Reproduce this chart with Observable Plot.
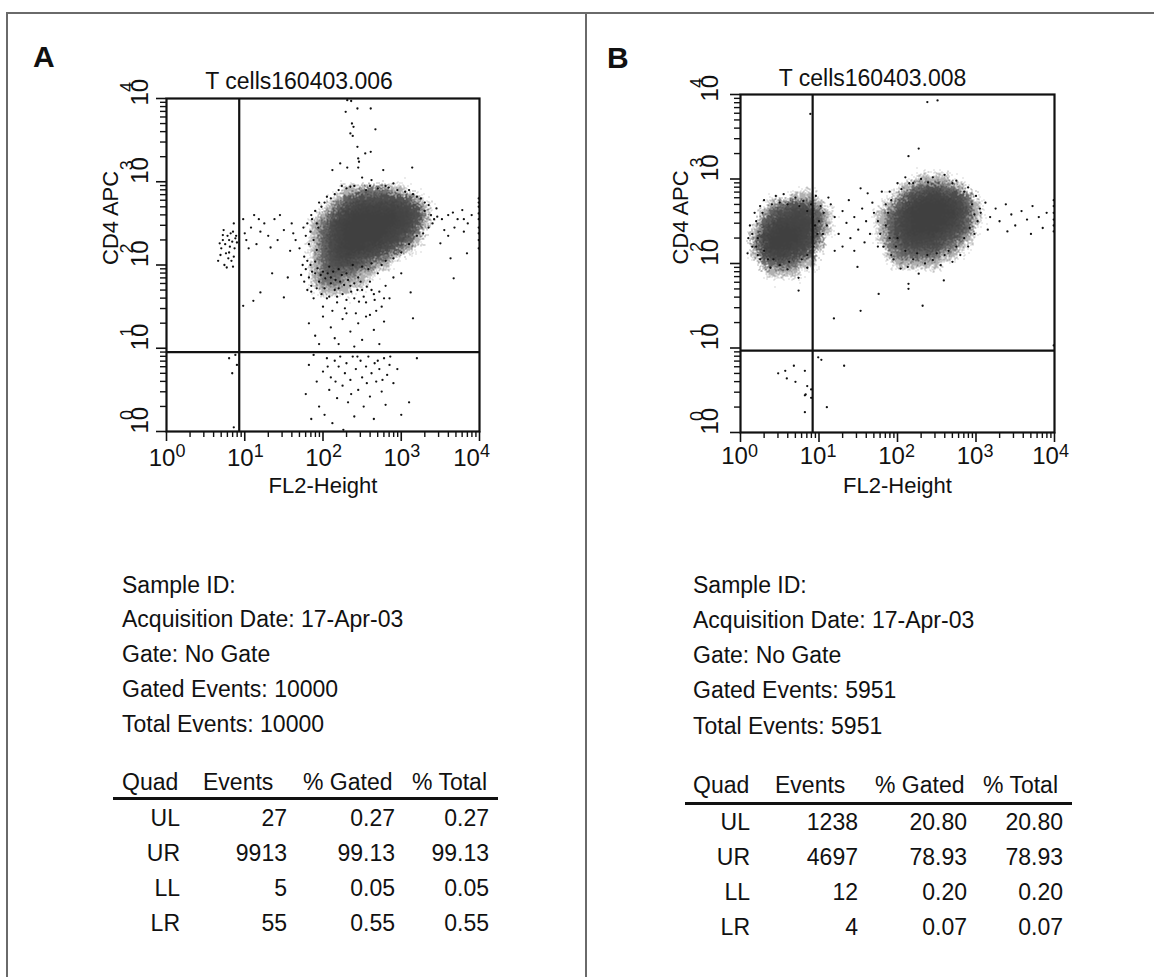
<!DOCTYPE html>
<html><head><meta charset="utf-8">
<script src="https://cdn.jsdelivr.net/npm/d3@7"></script>
<script src="https://cdn.jsdelivr.net/npm/@observablehq/plot@0.6"></script>
<style>
body{margin:0;background:#fff;}
#fig{position:relative;width:1154px;height:977px;overflow:hidden;font-family:"Liberation Sans",Arial,Helvetica,sans-serif;color:#111;background:#fff;}
.t{position:absolute;font-size:23px;line-height:23px;white-space:nowrap;}
.r{transform:translateX(-100%);}
.lab{position:absolute;font-size:30px;line-height:30px;font-weight:bold;}
.bd{position:absolute;background:#6a6a6a;z-index:5;}
.rule{position:absolute;height:3px;background:#111;}
.pl{position:absolute;top:0;}
</style></head><body><div id="fig"></div>
<script>
// ---------------- data ----------------
const titleA = "T cells160403.006";
const titleB = "T cells160403.008";
const xLabel = "FL2-Height";
const yLabel = "CD4 APC";
const decadeTicks = [1, 10, 100, 1000, 10000];
const decadeExp = ["0", "1", "2", "3", "4"];

// quadrant gates (channel values)
const gateA = {x: 8.5, y: 9.0};
const gateB = {x: 8.3, y: 9.3};

// density grid, panel A (log10 decades)
const gridA_lx = [1.7,1.8,1.9,2.0,2.1,2.2,2.3,2.4,2.5,2.6,2.7,2.8,2.9,3.0,3.1,3.2,3.3,3.4,3.5];
const gridA_ly = [3.0,2.9,2.8,2.7,2.6,2.5,2.4,2.3,2.2,2.1,2.0,1.9,1.8,1.7,1.6];
const gridA = [
 [0,0,0,0,0,0,0,0,0,0,0,0,0,0,0,0,0,0,0],
 [0,0,0,0,0,0,1,1,2,2,2,2,1,1,0,0,0,0,0],
 [0,0,0,0,0,1,3,4,5,5,5,5,5,4,3,1,0,0,0],
 [0,0,0,0,1,3,6,7,8,8,8,8,8,7,6,4,1,0,0],
 [0,0,0,1,3,6,8,9,9,9,9,9,9,8,7,5,2,0,0],
 [0,0,1,2,5,8,9,9,9,9,9,9,9,8,7,4,1,0,0],
 [0,0,1,3,6,8,9,9,9,9,9,9,8,7,5,2,0,0,0],
 [0,0,1,3,6,8,9,9,9,9,9,8,7,5,3,1,0,0,0],
 [0,0,1,3,6,8,9,9,9,8,7,6,4,2,1,0,0,0,0],
 [0,0,1,3,5,7,8,7,6,5,4,2,1,0,0,0,0,0,0],
 [0,0,1,3,4,5,5,4,3,2,1,1,0,0,0,0,0,0,0],
 [0,0,1,2,3,3,2,2,1,1,0,0,0,0,0,0,0,0,0],
 [0,0,1,2,2,2,1,1,1,0,0,0,0,0,0,0,0,0,0],
 [0,0,0,1,1,1,1,0,0,0,0,0,0,0,0,0,0,0,0],
 [0,0,0,0,0,0,0,0,0,0,0,0,0,0,0,0,0,0,0]
];

// density grids, panel B: UL population and UR population
const gridB1_lx = [0.0,0.1,0.2,0.3,0.4,0.5,0.6,0.7,0.8,0.9,1.0,1.1,1.2,1.3,1.4];
const gridB1_ly = [2.9,2.8,2.7,2.6,2.5,2.4,2.3,2.2,2.1,2.0,1.9,1.8];
const gridB1 = [
 [0,0,0,0,0,0,0,0,0,0,0,0,0,0,0],
 [0,0,0,0,0,0,0,1,1,1,0,0,0,0,0],
 [0,0,0,0,1,2,3,4,4,3,1,0,0,0,0],
 [0,0,0,1,3,5,6,7,7,6,3,1,0,0,0],
 [0,0,0,3,6,8,8,8,8,7,3,1,0,0,0],
 [0,0,1,5,8,9,9,9,8,7,3,1,0,0,0],
 [0,0,2,7,9,9,9,9,8,6,2,0,0,0,0],
 [0,0,2,7,9,9,9,8,7,4,1,0,0,0,0],
 [0,0,1,5,7,8,7,6,4,2,0,0,0,0,0],
 [0,0,0,2,3,4,3,2,1,1,0,0,0,0,0],
 [0,0,0,0,1,1,1,1,0,0,0,0,0,0,0],
 [0,0,0,0,0,0,0,0,0,0,0,0,0,0,0]
];
const gridB2_lx = [1.6,1.7,1.8,1.9,2.0,2.1,2.2,2.3,2.4,2.5,2.6,2.7,2.8,2.9,3.0,3.1,3.2,3.3];
const gridB2_ly = [3.1,3.0,2.9,2.8,2.7,2.6,2.5,2.4,2.3,2.2,2.1,2.0,1.9,1.8];
const gridB2 = [
 [0,0,0,0,0,0,0,0,0,0,0,0,0,0,0,0,0,0],
 [0,0,0,0,0,0,0,1,1,1,1,0,0,0,0,0,0,0],
 [0,0,0,0,0,1,2,3,4,4,3,2,1,0,0,0,0,0],
 [0,0,0,0,1,3,5,7,8,8,7,6,4,2,0,0,0,0],
 [0,0,0,1,3,6,8,9,9,9,9,8,6,3,1,0,0,0],
 [0,0,1,2,5,8,9,9,9,9,9,9,7,4,1,0,0,0],
 [0,0,1,3,6,8,9,9,9,9,9,8,6,3,1,0,0,0],
 [0,0,1,3,6,8,9,9,9,9,8,6,4,2,0,0,0,0],
 [0,0,1,2,5,7,8,8,8,7,6,4,2,1,0,0,0,0],
 [0,0,0,2,3,5,6,6,6,5,3,2,1,0,0,0,0,0],
 [0,0,0,1,2,3,3,3,3,2,1,1,0,0,0,0,0,0],
 [0,0,0,0,1,1,1,1,1,1,0,0,0,0,0,0,0,0],
 [0,0,0,0,0,0,0,0,0,0,0,0,0,0,0,0,0,0],
 [0,0,0,0,0,0,0,0,0,0,0,0,0,0,0,0,0,0]
];

// individual events, [log10 FL2, log10 CD4]
const eventsDotsA = [
 [2.31,3.98],[2.36,3.97],[2.29,3.84],[2.44,3.88],[2.61,3.88],[2.37,3.70],[2.39,3.66],[2.67,3.63],[2.35,3.58],[2.38,3.55],
 [2.44,3.42],[2.54,3.34],[2.61,3.36],[2.45,3.28],[2.46,3.24],[2.45,3.17],[2.22,3.22],[2.31,3.17],[2.12,3.14],[2.77,3.14],
 [3.14,3.17],[2.24,2.95],[2.35,2.94],[2.84,2.93],[2.5,3.05],[2.62,3.02],[2.9,2.98],
 [2.2,2.9],[2.3,2.92],[2.6,2.95],[2.7,2.92],[2.95,2.9],[3.05,2.88],[3.15,2.85],[3.25,2.8],[3.35,2.72],[3.3,2.65],[3.38,2.6],
 [1.95,2.75],[2.05,2.82],[1.85,2.6],[1.8,2.5],[1.78,2.35],
 [3.99,2.8],[3.99,2.75],[3.99,2.7],[3.99,2.62],[3.99,2.55],[3.99,2.45],[3.99,2.38],[3.99,2.3],[3.99,2.2],
 [3.46,2.58],[3.52,2.55],[3.6,2.6],[3.66,2.63],[3.72,2.55],[3.78,2.66],[3.8,2.55],[3.68,2.45],[3.55,2.42],[3.6,2.35],
 [3.8,2.4],[3.85,2.5],[3.5,2.26],[3.67,1.84],[3.63,2.08],[3.84,2.14],[3.12,1.67],[3.15,1.36],[3.45,2.68],[3.9,2.6],
 [0.66,2.05],[0.7,2.2],[0.72,2.3],[0.75,2.25],[0.78,2.35],[0.8,2.15],[0.82,2.38],[0.84,2.28],[0.86,2.1],[0.88,2.32],
 [0.69,2.12],[0.74,2.0],[0.77,1.97],[0.81,2.22],[0.85,2.4],[0.83,2.05],[0.72,2.36],[0.79,2.08],[0.87,2.2],[0.9,2.27],
 [0.68,2.26],[0.76,2.14],[0.85,1.98],[0.89,2.35],[0.73,2.42],[0.86,2.5],[0.8,2.3],
 [0.98,2.55],[1.02,2.3],[1.08,2.45],[1.12,2.6],[1.15,2.25],[1.2,2.4],[1.25,2.5],[1.3,2.35],[1.33,2.21],[1.38,2.55],
 [1.42,2.3],[1.05,2.2],[1.0,2.38],[1.18,2.55],[1.6,2.5],[1.65,2.3],[1.7,2.2],[1.75,2.45],[1.62,2.38],[1.58,2.17],
 [1.5,2.42],[1.92,2.5],[1.45,2.6],[0.98,1.51],[1.11,1.57],[1.2,1.67],[1.5,1.61],[1.35,1.9],[1.55,1.85],
 [1.78,1.95],[1.82,1.85],[1.85,1.75],[1.9,1.9],[1.95,1.8],[1.98,1.65],[2.02,1.72],[2.05,1.6],[2.1,1.85],[2.15,1.7],
 [2.18,1.55],[2.22,1.8],[2.25,1.65],[2.3,1.9],[2.35,1.75],[2.4,1.6],[2.45,1.85],[2.5,1.7],[2.55,1.55],[2.6,1.8],
 [2.65,1.65],[2.7,1.9],[2.75,1.5],[2.8,1.75],[2.85,1.6],[1.88,1.6],[2.0,1.5],[2.12,1.45],[2.28,1.48],[2.42,1.42],
 [2.58,1.95],[2.68,1.45],[1.8,1.7],[2.08,1.98],[2.2,1.95],[2.38,2.0],[2.5,1.98],[2.62,2.02],[2.75,2.0],[2.9,1.85],[3.0,1.9],
 [1.76,2.1],[1.8,2.05],[1.84,2.0],[1.86,1.92],[1.9,2.04],[1.93,1.96],[1.97,1.88],[2.0,1.92],[2.03,1.84],[2.06,1.9],
 [2.1,1.78],[2.13,1.92],[2.16,1.82],[2.2,1.72],[2.24,1.88],[2.27,1.76],[2.32,1.82],[2.36,1.68],[2.4,1.78],[2.44,1.7],
 [2.48,1.8],[2.52,1.62],[2.56,1.74],[2.62,1.7],[2.66,1.58],[2.72,1.68],[2.78,1.6],[1.72,1.88],[1.74,2.0],[1.76,1.8],
 [1.85,1.68],[1.92,1.72],[2.08,1.62],[2.18,1.62],[2.3,1.58],[2.46,1.56],
 [1.82,2.25],[1.84,2.4],[1.86,2.55],[1.88,2.3],[1.9,2.65],[1.92,2.18],[1.94,2.45],[1.98,2.7],[2.02,2.75],[2.1,2.8],[2.15,2.85],
 [2.4,2.95],[2.55,2.9],[2.8,2.95],[3.1,2.9],[3.2,2.82],[3.3,2.75],[3.4,2.5],[3.35,2.45],[3.2,2.35],[3.1,2.25],
 [3.0,2.15],[2.9,2.08],[2.8,2.05],[3.42,2.55],[3.28,2.38],
 [1.82,1.3],[1.9,1.15],[2.0,1.38],[2.1,1.25],[2.2,1.05],[2.25,1.35],[2.35,1.2],[2.45,1.3],[2.5,1.1],[2.6,1.4],
 [2.65,1.22],[2.72,1.05],[2.78,1.32],[2.4,1.02],[2.15,1.12],[2.55,1.38],[2.3,1.42],[1.95,1.05],
 [1.78,0.45],[1.82,0.8],[1.88,0.92],[1.92,0.6],[1.95,0.3],[2.0,0.72],[2.02,0.2],[2.05,0.88],[2.08,0.5],[2.1,0.65],
 [2.12,0.1],[2.15,0.85],[2.18,0.4],[2.2,0.78],[2.22,0.9],[2.25,0.55],[2.28,0.7],[2.3,0.82],[2.32,0.35],[2.35,0.62],
 [2.38,0.9],[2.4,0.18],[2.42,0.75],[2.45,0.5],[2.48,0.85],[2.5,0.65],[2.52,0.3],[2.55,0.78],[2.58,0.9],[2.6,0.42],
 [2.62,0.7],[2.65,0.15],[2.68,0.6],[2.7,0.85],[2.72,0.75],[2.75,0.48],[2.78,0.88],[2.8,0.32],[2.82,0.68],[2.85,0.8],
 [3.0,0.2],[3.1,0.35],[2.9,0.58],[1.85,0.15],[3.2,0.88],[2.95,0.75],[2.26,0.02],[2.44,0.9],[2.06,0.78],[2.16,0.6],
 [2.36,0.45],[2.56,0.58],[2.66,0.82],[2.76,0.62],[2.86,0.9],
 [0.84,0.7],[0.88,0.92],[0.9,0.8],[0.86,0.05],[0.8,0.88]
];
const eventsDotsB = [
 [2.38,3.91],[2.51,3.93],[2.27,3.36],[2.14,3.27],[0.89,3.77],[2.2,2.95],[2.39,2.96],[1.53,2.89],[1.62,2.83],
 [1.06,2.6],[1.1,2.45],[1.15,2.7],[1.2,2.55],[1.25,2.35],[1.3,2.62],[1.35,2.48],[1.4,2.3],[1.45,2.55],[1.5,2.4],
 [1.55,2.65],[1.6,2.5],[1.65,2.35],[1.7,2.6],[1.75,2.2],[1.3,2.2],[1.45,2.15],[1.58,2.25],[1.05,2.35],[1.12,2.78],
 [1.38,2.75],[1.68,2.72],[1.8,2.85],[1.0,2.5],[1.2,2.15],
 [0.1,2.3],[0.12,2.45],[0.15,2.2],[0.18,2.6],[0.22,2.1],[0.25,2.68],[0.3,2.75],[0.35,2.05],[0.45,2.8],[0.55,2.82],
 [0.7,2.78],[0.8,2.74],[0.9,2.7],[0.96,2.8],[1.02,2.68],[0.38,1.95],[0.6,1.93],[0.09,2.12],[0.74,1.83],[0.74,1.68],
 [0.5,1.98],[0.85,1.95],
 [0.15,2.35],[0.2,2.5],[0.22,2.3],[0.28,2.6],[0.3,2.15],[0.4,2.7],[0.42,2.05],[0.5,2.72],[0.6,2.7],[0.62,2.02],
 [0.75,2.68],[0.85,2.62],[0.92,2.55],[0.95,2.45],[0.98,2.35],[0.93,2.2],[0.85,2.1],[0.78,2.05],[0.2,2.2],[0.25,2.05],
 [1.75,2.5],[1.78,2.35],[1.82,2.2],[1.85,2.7],[1.9,2.85],[1.95,2.05],[2.0,2.95],[2.1,3.02],[2.6,3.05],[2.75,2.98],
 [2.9,2.9],[3.0,2.8],[3.05,2.65],[3.02,2.5],[2.98,2.35],[2.9,2.2],[2.8,2.1],[2.7,2.02],[2.04,1.94],[2.13,1.96],
 [2.14,1.76],[2.14,1.7],[2.27,1.88],[2.32,1.5],[2.59,1.8],[1.49,1.96],[1.76,1.64],[1.53,1.44],[1.19,1.35],[2.2,2.05],
 [2.35,2.0],[2.45,2.04],[2.55,1.98],[1.92,2.1],[2.6,2.1],
 [1.85,2.45],[1.88,2.6],[1.9,2.3],[1.92,2.75],[1.98,2.2],[2.05,2.88],[2.15,2.95],[2.3,3.0],[2.45,3.02],[2.7,2.95],
 [2.85,2.85],[2.95,2.7],[2.98,2.58],[2.92,2.42],[2.85,2.3],[2.75,2.2],[2.65,2.15],[2.5,2.12],[2.38,2.1],[2.25,2.12],
 [2.1,2.15],[2.0,2.3],
 [3.06,2.6],[3.12,2.72],[3.18,2.55],[3.25,2.65],[3.3,2.5],[3.38,2.7],[3.45,2.58],[3.5,2.45],[3.58,2.62],[3.65,2.52],
 [3.72,2.68],[3.8,2.55],[3.85,2.42],[3.9,2.6],[3.15,2.4],[3.4,2.38],[3.7,2.35],
 [3.99,2.75],[3.99,2.68],[3.99,2.6],[3.99,2.52],[3.99,2.45],[3.99,2.38],[3.99,1.03],
 [0.48,0.70],[0.57,0.73],[0.59,0.64],[0.68,0.79],[0.82,0.73],[0.83,0.45],[0.82,0.44],[0.82,0.24],[0.9,0.51],[0.9,0.41],
 [0.85,0.55],[0.7,0.6],
 [0.99,0.89],[1.03,0.86],[1.32,0.79],[1.1,0.3]
];

// text block and statistics table
const infoA = ["Sample ID:", "Acquisition Date: 17-Apr-03", "Gate: No Gate", "Gated Events: 10000", "Total Events: 10000"];
const infoB = ["Sample ID:", "Acquisition Date: 17-Apr-03", "Gate: No Gate", "Gated Events: 5951", "Total Events: 5951"];
const tableHeaders = ["Quad", "Events", "% Gated", "% Total"];
const quads = ["UL", "UR", "LL", "LR"];
const eventsA = ["27", "9913", "5", "55"];
const gatedA = ["0.27", "99.13", "0.05", "0.55"];
const totalA = ["0.27", "99.13", "0.05", "0.55"];
const eventsB = ["1238", "4697", "12", "4"];
const gatedB = ["20.80", "78.93", "0.20", "0.07"];
const totalB = ["20.80", "78.93", "0.20", "0.07"];

// ---------------- drawing ----------------
const fig = document.getElementById("fig");
const FONT = '"Liberation Sans", Arial, Helvetica, sans-serif';
const minorTicks = [];
for (const d of [1, 10, 100, 1000]) for (let m = 2; m <= 9; m++) minorTicks.push(m * d);
const dec = decadeTicks.map((v, i) => ({v, e: decadeExp[i]}));

function samplesFrom(lx, ly, rows) {
  const out = [];
  rows.forEach((row, i) => row.forEach((v, j) => out.push({x: 10 ** lx[j], y: 10 ** ly[i], v})));
  return out;
}

function panel(o) {
  const lo = dec.slice(0, 4), hi = dec.slice(4);
  const chart = Plot.plot({
    width: o.width, height: o.height,
    marginLeft: o.ml, marginRight: o.mr, marginTop: o.mt, marginBottom: o.mb,
    style: {background: "transparent", fontFamily: FONT, overflow: "visible", color: "#111"},
    x: {type: "log", domain: [1, 10000]},
    y: {type: "log", domain: [1, 10000]},
    color: {type: "linear", domain: [0, 0.6, 1.6, 4, 9], range: ["#ffffff", "#d4d4d4", "#7a7a7a", "#525252", "#404040"]},
    marks: [
      Plot.raster(o.samples, {x: "x", y: "y", fill: "v", interpolate: "random-walk", pixelSize: 1}),
      Plot.dot(o.dots, {x: d => 10 ** d[0], y: d => 10 ** d[1], r: 1.15, fill: "#111", clip: "frame"}),
      Plot.ruleX([o.gate.x], {stroke: "#111", strokeWidth: 2.2}),
      Plot.ruleY([o.gate.y], {stroke: "#111", strokeWidth: 2.2}),
      Plot.frame({stroke: "#111", strokeWidth: 2.2}),
      Plot.axisX({ticks: decadeTicks, tickSize: 10, tickFormat: () => "", strokeWidth: 1.6, label: null}),
      Plot.axisX({ticks: minorTicks, tickSize: 6, tickFormat: () => "", strokeWidth: 1.4, label: null}),
      Plot.axisY({ticks: decadeTicks, tickSize: 10, tickFormat: () => "", strokeWidth: 1.6, label: null}),
      Plot.axisY({ticks: minorTicks, tickSize: 6, tickFormat: () => "", strokeWidth: 1.4, label: null}),
      // x tick labels 10^k
      Plot.text(lo, {x: "v", text: () => "10", frameAnchor: "bottom", lineAnchor: "bottom", dy: o.xlDy, dx: o.xlDx, fontSize: 24}),
      Plot.text(lo, {x: "v", text: "e", frameAnchor: "bottom", lineAnchor: "bottom", textAnchor: "start", dy: o.xeDy, dx: o.xlDx + 13.5, fontSize: 18}),
      Plot.text(hi, {x: "v", text: () => "10", frameAnchor: "bottom", lineAnchor: "bottom", dy: o.xlDy, dx: o.xlDxLast, fontSize: 24}),
      Plot.text(hi, {x: "v", text: "e", frameAnchor: "bottom", lineAnchor: "bottom", textAnchor: "start", dy: o.xeDy, dx: o.xlDxLast + 13.5, fontSize: 18}),
      // y tick labels 10^k (rotated)
      Plot.text(lo, {y: "v", text: () => "10", frameAnchor: "left", rotate: -90, lineAnchor: "bottom", dx: o.ylDx, dy: 2, fontSize: 24}),
      Plot.text(lo, {y: "v", text: "e", frameAnchor: "left", rotate: -90, lineAnchor: "bottom", textAnchor: "start", dx: o.yeDx, dy: -11.5, fontSize: 18}),
      Plot.text(hi, {y: "v", text: () => "10", frameAnchor: "left", rotate: -90, lineAnchor: "bottom", dx: o.ylDx, dy: 7, fontSize: 24}),
      Plot.text(hi, {y: "v", text: "e", frameAnchor: "left", rotate: -90, lineAnchor: "bottom", textAnchor: "start", dx: o.yeDx, dy: -6.5, fontSize: 18}),
      // titles
      Plot.text([o.title], {text: d => d, frameAnchor: "top", lineAnchor: "bottom", dy: o.tDy, dx: o.tDx, fontSize: 23}),
      Plot.text([xLabel], {text: d => d, frameAnchor: "bottom", lineAnchor: "bottom", dy: o.xtDy, fontSize: 22}),
      Plot.text([yLabel], {text: d => d, frameAnchor: "left", rotate: -90, lineAnchor: "bottom", dx: o.ytDx, dy: o.ytDy, fontSize: 22})
    ]
  });
  chart.classList.add("pl");
  chart.style.left = o.left + "px";
  fig.appendChild(chart);
}

panel({
  left: 0, width: 586, height: 520, ml: 166, mr: 107, mt: 98, mb: 89,
  samples: samplesFrom(gridA_lx, gridA_ly, gridA), dots: eventsDotsA, gate: gateA, title: titleA,
  xlDy: 34, xeDy: 25, xlDx: -4.5, xlDxLast: -13, ylDx: -19, yeDx: -34,
  tDy: -10, tDx: -24, xtDy: 61, ytDx: -49, ytDy: 0
});
panel({
  left: 586, width: 568, height: 520, ml: 154, mr: 100, mt: 94, mb: 88,
  samples: samplesFrom(gridB1_lx, gridB1_ly, gridB1).concat(samplesFrom(gridB2_lx, gridB2_ly, gridB2)),
  dots: eventsDotsB, gate: gateB, title: titleB,
  xlDy: 31, xeDy: 24, xlDx: -6, xlDxLast: -9, ylDx: -23, yeDx: -38,
  tDy: -9, tDx: -25, xtDy: 60, ytDx: -53, ytDy: 1
});

function addText(str, left, baseline, cls) {
  const d = document.createElement("div");
  d.className = "t" + (cls ? " " + cls : "");
  d.style.left = left + "px";
  d.style.top = (baseline - 19.5) + "px";
  d.textContent = str;
  fig.appendChild(d);
}
function block(o) {
  o.info.forEach((s, i) => addText(s, o.x, o.infoBase[i]));
  tableHeaders.forEach((h, i) => addText(h, o.hx[i], o.hBase));
  const rule = document.createElement("div");
  rule.className = "rule";
  rule.style.left = o.rule[0] + "px";
  rule.style.width = (o.rule[1] - o.rule[0]) + "px";
  rule.style.top = o.ruleY + "px";
  fig.appendChild(rule);
  quads.forEach((q, i) => {
    const b = o.rowBase[i];
    addText(q, o.cx[0], b, "r");
    addText(o.ev[i], o.cx[1], b, "r");
    addText(o.ga[i], o.cx[2], b, "r");
    addText(o.to[i], o.cx[3], b, "r");
  });
}
block({info: infoA, x: 122, infoBase: [593, 627, 662, 697, 732],
  hx: [122, 203, 303, 412], hBase: 790, rule: [113, 498], ruleY: 797,
  rowBase: [826, 861, 896, 931], cx: [180, 287, 395, 489], ev: eventsA, ga: gatedA, to: totalA});
block({info: infoB, x: 693, infoBase: [593, 628, 663, 698, 734],
  hx: [693, 775, 875, 983], hBase: 793, rule: [685, 1072], ruleY: 802,
  rowBase: [830, 865, 900, 935], cx: [750, 858, 967, 1063], ev: eventsB, ga: gatedB, to: totalB});

// panel letters
[["A", 33, 67], ["B", 607, 68]].forEach(([s, x, b]) => {
  const d = document.createElement("div");
  d.className = "lab"; d.style.left = x + "px"; d.style.top = (b - 25.4) + "px"; d.textContent = s;
  fig.appendChild(d);
});
// figure borders
[[7, 12, 1147, 2], [6, 12, 2, 965], [585, 12, 2, 965]].forEach(([x, y, w, h]) => {
  const d = document.createElement("div");
  d.className = "bd"; d.style.left = x + "px"; d.style.top = y + "px"; d.style.width = w + "px"; d.style.height = h + "px";
  fig.appendChild(d);
});
</script></body></html>
